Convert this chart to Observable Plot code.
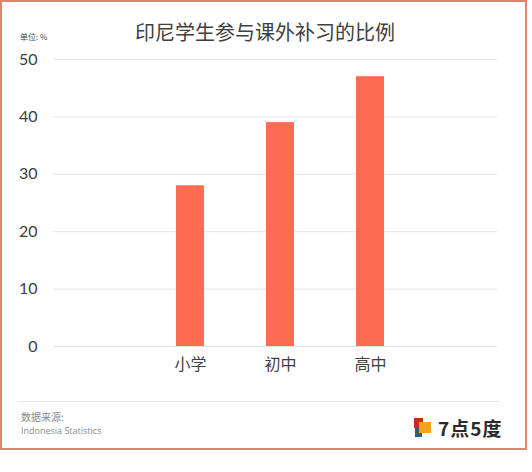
<!DOCTYPE html>
<html>
<head>
<meta charset="utf-8">
<script src="https://cdn.jsdelivr.net/npm/d3@7"></script>
<script src="https://cdn.jsdelivr.net/npm/@observablehq/plot@0.6"></script>
<style>
  html, body { margin: 0; padding: 0; background: #fff; }
  body { position: relative; width: 532px; height: 472px; overflow: hidden; font-family: "Noto Sans CJK SC", "Noto Sans", sans-serif; }
  #card { position: absolute; left: 0; top: 0; width: 527px; height: 450px; box-sizing: border-box; border: 2px solid #e3826f; }
  #title { position: absolute; left: 0; width: 530px; top: 18px; text-align: center; font-size: 20px; color: #404040; line-height: 28px; }
  #unit { position: absolute; left: 20px; top: 32px; font-size: 8px; color: #444; line-height: 10px; }
  #chart { position: absolute; left: 0; top: 0; }
  #sep { position: absolute; left: 18px; width: 482px; top: 401px; height: 0; border-top: 1px solid #e6e6e6; }
  #src1 { position: absolute; left: 21px; top: 412px; font-size: 10px; line-height: 10px; color: #8a8a8a; }
  #src2 { position: absolute; left: 21px; top: 426px; font-size: 9px; line-height: 10px; color: #8a8a8a; font-family: "Open Sans", sans-serif; }
  #logo { position: absolute; left: 413px; top: 416px; width: 90px; height: 24px; }
  #logo .t { position: absolute; left: 25px; top: -1px; font-size: 19px; line-height: 26px; font-weight: bold; color: #2b2b2b; letter-spacing: 1px; }
</style>
</head>
<body>
<div id="card"></div>
<div id="chart"></div>
<div id="title">印尼学生参与课外补习的比例</div>
<div id="unit">单位: %</div>
<div id="sep"></div>
<div id="src1">数据来源:</div>
<div id="src2">Indonesia Statistics</div>
<div id="logo">
  <svg width="24" height="24" style="position:absolute;left:0;top:0">
    <rect x="2" y="8" width="7" height="13" fill="#2f5f7a"/>
    <rect x="1" y="2" width="9" height="10" fill="#c8282a"/>
    <rect x="6" y="6" width="12" height="11" fill="#f7a21b"/>
  </svg>
  <div class="t">7点5度</div>
</div>
<script>
const categories = ["小学", "初中", "高中"];
const values = [28, 39, 47];
const yTicks = [0, 10, 20, 30, 40, 50];

const data = categories.map((c, i) => ({cat: c, value: values[i]}));

const plot = Plot.plot({
  width: 532,
  height: 390,
  marginTop: 59,
  marginBottom: 44,
  marginLeft: 53,
  marginRight: 35,
  style: {background: "transparent", fontFamily: "Lato, 'Open Sans', sans-serif", overflow: "visible"},
  x: {domain: categories, paddingInner: 0.69, paddingOuter: 1.3, align: 0.52, label: null},
  y: {domain: [0, 50], ticks: yTicks, label: null},
  marks: [
    Plot.ruleY(yTicks, {stroke: "#e3e3e3", strokeWidth: 1}),
    Plot.barY(data, {x: "cat", y: "value", fill: "#fc6b52"}),
    Plot.axisY({ticks: yTicks, tickSize: 0, tickPadding: 16, fontSize: 16, fill: "#404040", label: null}),
    Plot.axisX({tickSize: 0, tickPadding: 12, fontSize: 16, fill: "#404040", label: null, fontFamily: "Noto Sans CJK SC"})
  ]
});
document.getElementById("chart").appendChild(plot);
</script>
</body>
</html>
